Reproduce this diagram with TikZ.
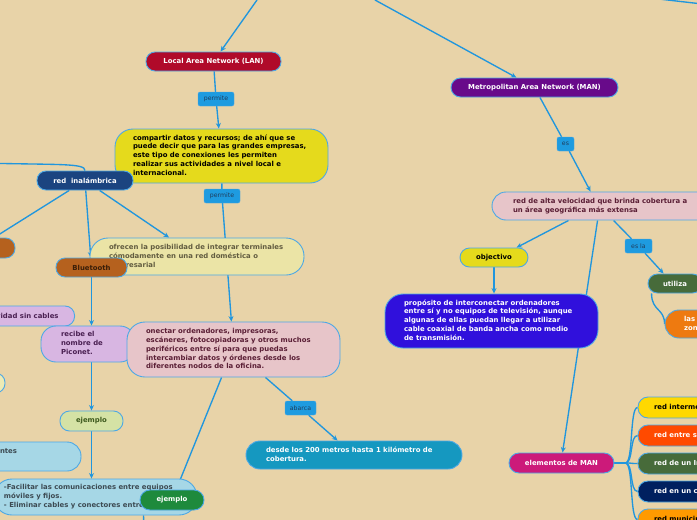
\documentclass[tikz,border=0pt]{standalone}
\usepackage{fontspec}
\setmainfont{DejaVu Sans}
\usetikzlibrary{arrows.meta}
\pgfdeclarelayer{bgl}
\pgfdeclarelayer{lines}
\pgfsetlayers{bgl,lines,main}
\definecolor{cBg}{HTML}{E8D3A8}
\definecolor{cLine}{HTML}{2196DD}
\definecolor{cEdge}{HTML}{4CA8E6}
\definecolor{cLab}{HTML}{1E9BE0}
\definecolor{cLabTxt}{HTML}{1F3D5C}
\definecolor{cLan}{HTML}{B00A2A}
\definecolor{cYel}{HTML}{E5DA1C}
\definecolor{cNavy}{HTML}{1B4480}
\definecolor{cBrown}{HTML}{B5611E}
\definecolor{cBrownTxt}{HTML}{3A1E08}
\definecolor{cPaleY}{HTML}{EBE4A6}
\definecolor{cOlive}{HTML}{625C40}
\definecolor{cLav}{HTML}{D8B6E2}
\definecolor{cLavTxt}{HTML}{4A2052}
\definecolor{cPink}{HTML}{E7C5C9}
\definecolor{cMaroon}{HTML}{5A1E35}
\definecolor{cPaleG}{HTML}{EDEBB5}
\definecolor{cEj}{HTML}{D5E2A5}
\definecolor{cEjTxt}{HTML}{3E5A1E}
\definecolor{cLBlue}{HTML}{A6D7E6}
\definecolor{cGTxt}{HTML}{3C4A52}
\definecolor{cDGreen}{HTML}{1E8A3C}
\definecolor{cTeal}{HTML}{1598C0}
\definecolor{cPurp}{HTML}{680A8A}
\definecolor{cViolet}{HTML}{3010DC}
\definecolor{cMGreen}{HTML}{476B3A}
\definecolor{cOrange}{HTML}{EE7A10}
\definecolor{cMag}{HTML}{CC1A7A}
\definecolor{cRYel}{HTML}{FFD800}
\definecolor{cRRed}{HTML}{FF4A00}
\definecolor{cRNavy}{HTML}{00205F}
\definecolor{cROr}{HTML}{FF9A00}

\newcommand{\lbx}[2]{\makebox[#1][l]{\begin{tabular}{@{}l@{}}#2\end{tabular}}}

\tikzset{
  box/.style={draw=cEdge, line width=0.9pt, rounded corners=#1, font=\fontsize{6.9}{8.8}\selectfont\bfseries, inner ysep=0pt},
  cbox/.style={box=#1, inner sep=0pt},
  lab/.style={fill=cLab, draw=cEdge, line width=0.4pt, rounded corners=2pt, text=cLabTxt, font=\fontsize{6.2}{7}\selectfont, inner sep=0pt, minimum height=14pt},
  conn/.style={draw=cLine, line width=1.35pt},
  arr/.style={conn, -{Stealth[length=5.5pt,width=5pt]}},
}

\begin{document}
\begin{tikzpicture}[x=1pt,y=-1pt]
\useasboundingbox (0,0) rectangle (697,520);
\begin{pgfonlayer}{bgl}
\fill[cBg] (0,0) rectangle (697,520);
\end{pgfonlayer}
\clip (0,0) rectangle (697,520);

% free ends
\coordinate (t1) at (257,0);
\coordinate (t2) at (375,0);
\coordinate (tr1) at (650,-2);
\coordinate (tr2) at (720,6);
\coordinate (w1) at (-20,163);
\coordinate (fb) at (144,540);

% LAN branch
\node[cbox=9pt, fill=cLan, text=white, minimum width=135pt, minimum height=19pt] (lan) at (213.5,61.5) {Local Area Network (LAN)};
\node[lab, minimum width=36pt] (p1) at (216,99) {permite};
\node[box=18pt, fill=cYel, text=black, inner xsep=18pt, minimum height=54pt] (comp) at (221.5,156) {\lbx{177pt}{compartir datos y recursos; de ahí que se\\ puede decir que para las grandes empresas,\\ este tipo de conexiones les permiten\\ realizar sus actividades a nivel local e\\ internacional.}};
\node[lab, minimum width=36pt] (p2) at (222,196) {permite};

\node[cbox=9pt, fill=cNavy, text=white, minimum width=96pt, minimum height=19pt] (inal) at (85,180.5) {red\ \ inalámbrica};
\node[cbox=9.5pt, fill=cBrown, minimum width=75pt, minimum height=20pt] (lb) at (-22.5,248) {};
\node[box=18pt, fill=cPaleY, text=cOlive, inner xsep=19pt, minimum height=37pt] (ofr) at (197,256.5) {\lbx{176pt}{ofrecen la posibilidad de integrar terminales\\ cómodamente en una red doméstica o\\ empresarial}};
\node[cbox=9pt, fill=cBrown, text=cBrownTxt, minimum width=71pt, minimum height=19pt] (bt) at (91.5,267.5) {Bluetooth};
\node[box=9.5pt, fill=cLav, text=cLavTxt, anchor=east, inner xsep=16pt, minimum height=20pt] (con) at (75,316) {Conectividad sin cables};
\node[box=15pt, fill=cLav, text=cLavTxt, inner xsep=20pt, minimum height=36pt] (rec) at (88,344) {\lbx{54pt}{recibe el\\ nombre de\\ Piconet.}};
\node[box=18pt, fill=cPink, text=cMaroon, inner xsep=19pt, minimum height=55pt] (onc) at (233.5,349.5) {\lbx{175pt}{onectar ordenadores, impresoras,\\ escáneres, fotocopiadoras y otros muchos\\ periféricos entre sí para que puedas\\ intercambiar datos y órdenes desde los\\ diferentes nodos de la oficina.}};
\node[cbox=9.5pt, fill=cPaleG, minimum width=30pt, minimum height=20pt] (ls) at (-10,383) {};
\node[cbox=9.5pt, fill=cEj, text=cEjTxt, minimum width=63pt, minimum height=20pt] (ej1) at (91.5,421) {ejemplo};
\node[box=14pt, fill=cLBlue, text=cGTxt, inner xsep=60pt, minimum height=29pt] (ntes) at (10.5,456.5) {\lbx{21pt}{ntes\\ \mbox{}}};
\node[box=18pt, fill=cLBlue, text=cGTxt, inner xsep=10pt, minimum height=36pt] (fac) at (95.5,497) {\lbx{183pt}{-Facilitar las comunicaciones entre equipos\\ móviles y fijos.\\ - Eliminar cables y conectores entre estos.}};
\node[cbox=10pt, fill=cDGreen, text=white, minimum width=64pt, minimum height=20pt] (ej2) at (172,500) {ejemplo};
\node[lab, minimum width=31pt] (abarca) at (300.5,408) {abarca};
\node[box=14pt, fill=cTeal, text=white, inner xsep=20pt, minimum height=28pt] (des) at (354,455) {\lbx{176pt}{desde los 200 metros hasta 1 kilómetro de\\ cobertura.}};

% MAN branch
\node[cbox=9.5pt, fill=cPurp, text=white, minimum width=167pt, minimum height=19pt] (man) at (534.5,87.5) {Metropolitan Area Network (MAN)};
\node[lab, minimum width=17pt] (es) at (565.5,144) {es};
\node[box=14pt, fill=cPink, text=cMaroon, inner xsep=21pt, minimum height=28pt] (alta) at (611,206) {\lbx{196pt}{red de alta velocidad que brinda cobertura a\\ un área geográfica más extensa}};
\node[cbox=9.5pt, fill=cYel, text=black, minimum width=68pt, minimum height=19pt] (obj) at (494,257.5) {objectivo};
\node[box=18pt, fill=cViolet, text=white, inner xsep=19pt, minimum height=54pt] (prop) at (491.5,321) {\lbx{175pt}{propósito de interconectar ordenadores\\ entre sí y no equipos de televisión, aunque\\ algunas de ellas puedan llegar a utilizar\\ cable coaxial de banda ancha como medio\\ de transmisión.}};
\node[lab, minimum width=27pt] (esla) at (638.5,246) {es la};
\node[cbox=9.5pt, fill=cMGreen, text=white, minimum width=54pt, minimum height=19pt] (util) at (675,283.5) {utiliza};
\node[box=14pt, fill=cOrange, text=white, inner xsep=19pt, minimum height=28pt] (las) at (705,324) {\lbx{42pt}{las grandes\\ zonas urbanas}};
\node[cbox=10pt, fill=cMag, text=white, minimum width=105pt, minimum height=20pt] (elem) at (561.5,463) {elementos de MAN};
\node[box=10pt, fill=cRYel, text=black, inner xsep=16pt, minimum height=21pt] (r1) at (708,407.5) {\lbx{108pt}{red intermedia}};
\node[box=10pt, fill=cRRed, text=white, inner xsep=16pt, minimum height=21pt] (r2) at (708,435.5) {\lbx{108pt}{red entre sucursales}};
\node[box=10pt, fill=cMGreen, text=white, inner xsep=16pt, minimum height=21pt] (r3) at (708,463.5) {\lbx{108pt}{red de un Instituto}};
\node[box=10pt, fill=cRNavy, text=white, inner xsep=16pt, minimum height=21pt] (r4) at (708,491.5) {\lbx{108pt}{red en un campus}};
\node[box=10pt, fill=cROr, text=black, inner xsep=16pt, minimum height=21pt] (r5) at (708,519.5) {\lbx{108pt}{red municipal}};

\begin{pgfonlayer}{lines}
\begin{scope}
\clip (0,0) rectangle (697,520);
\draw[arr] (t1) -- (lan);
\draw[arr] (t2) -- (man);
\draw[conn] (tr1) -- (tr2);
\draw[conn] (lan) -- (p1);
\draw[arr] (p1) -- (comp);
\draw[conn] (comp) -- (p2);
\draw[arr] (p2) -- (onc);
\draw[conn] (w1) .. controls (60,165) and (85,163) .. (inal.north);
\draw[arr] (inal) -- (lb);
\draw[arr] (inal) -- (bt);
\draw[arr] (inal) -- (ofr);
\draw[arr] (bt) -- (bt |- rec.north);
\draw[arr] (ej1 |- rec.south) -- (ej1);
\draw[arr] (ej1) -- (ej1 |- fac.north);
\draw[arr] ([xshift=95pt]onc.south west) -- (ej2);
\draw[conn] ([xshift=150pt]fac.south west) -- (fb);
\draw[conn] (onc) -- (abarca);
\draw[arr] (abarca) -- (des);
\draw[conn] (man) -- (es);
\draw[arr] (es) -- ([xshift=99pt]alta.north west);
\draw[arr] ([xshift=77pt]alta.south west) -- ([xshift=57pt]obj.north west);
\draw[arr] ([xshift=106pt]alta.south west) -- ([xshift=54pt]elem.north west);
\draw[conn] ([xshift=122pt]alta.south west) -- (esla);
\draw[arr] (esla) -- ([xshift=16pt]util.north west);
\draw[arr] (obj) -- (obj |- prop.north);
\draw[conn] ([xshift=4pt]util.south west) .. controls +(0,18) and +(0,-16) .. (las.west);
\coordinate (hub) at ([xshift=11pt]elem.east);
\draw[conn] (elem.east) -- (hub);
\foreach \r in {r1,r2,r3,r4,r5}
  \draw[conn] (hub) .. controls +(8,0) and +(-8,0) .. (\r.west);
\end{scope}
\end{pgfonlayer}
\end{tikzpicture}
\end{document}
